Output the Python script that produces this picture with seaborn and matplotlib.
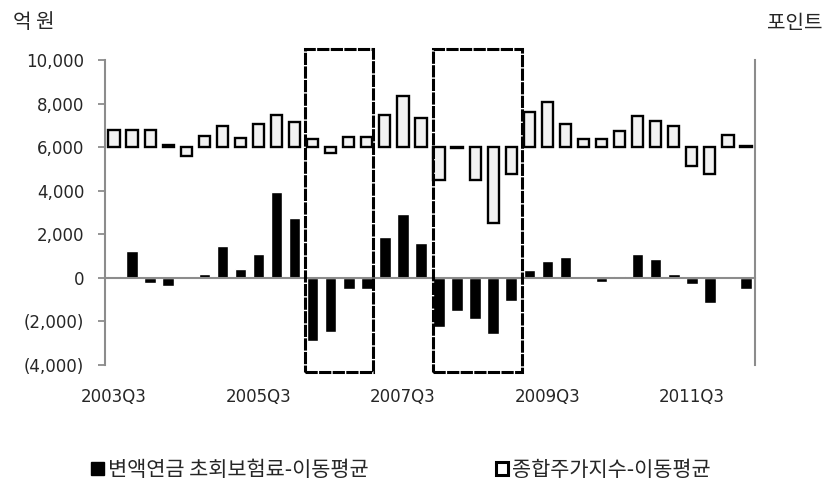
import matplotlib
matplotlib.use("Agg")
import matplotlib.pyplot as plt
from matplotlib.patches import Patch, Rectangle
import numpy as np
import pandas as pd
import seaborn as sns

# ---------------- data ----------------
quarters = []
for yr in range(2003, 2013):
    for q in range(1, 5):
        lab = f"{yr}Q{q}"
        if "2003Q3" <= lab <= "2012Q2":
            quarters.append(lab)

# 변액연금 초회보험료 - 이동평균 (억 원)
annuity = [90, 1250, -230, -380, 0, 180, 1450, 410, 1110, 3930, 2730, -2920,
           -2490, -500, -500, 1880, 2940, 1600, -2270, -1500, -1910, -2560,
           -1070, 380, 760, 960, 0, -200, 100, 1100, 880, 170, -300, -1150,
           0, -500]

# 종합주가지수 - 이동평균 (포인트)
kospi = [80, 80, 80, 8, -40, 50, 95, 43, 108, 149, 114, 39, -27, 47, 47,
         149, 233, 134, -149, -4, -152, -348, -122, 160, 205, 108, 38, 38,
         72, 144, 118, 95, -85, -122, 57, 4]

label_ticks = ["2003Q3", "2005Q3", "2007Q3", "2009Q3", "2011Q3"]
y_ticks = [-4000, -2000, 0, 2000, 4000, 6000, 8000, 10000]
legend_labels = ["변액연금 초회보험료-이동평균", "종합주가지수-이동평균"]

df = pd.DataFrame({"quarter": quarters, "annuity": annuity, "kospi": kospi})

# ---------------- style ----------------
sns.set_style("white")
plt.rcParams["font.family"] = ["DejaVu Sans", "Noto Sans CJK KR"]
TXT = "#262626"
GRAY = "#8c8c8c"
KFONT = ["Noto Sans CJK KR", "DejaVu Sans"]

fig = plt.figure(figsize=(8.3, 4.86), dpi=100)
ax = fig.add_axes([105 / 830, 1 - 365 / 486, 650 / 830, 305 / 486])

sns.barplot(data=df, x="quarter", y="annuity", color="black", saturation=1,
            width=0.64, ax=ax, errorbar=None)

ax2 = ax.twinx()
sns.barplot(data=df, x="quarter", y="kospi", color="#f2f2f2", saturation=1,
            edgecolor="black", linewidth=1.7, width=0.62, ax=ax2, errorbar=None)

n = len(quarters)
ax.set_xlim(-0.5, n - 0.5)
ax2.set_xlim(-0.5, n - 0.5)
ax.set_ylim(-4000, 10000)
ax2.set_ylim(-1000, 400)

# y axis (left)
ax.set_yticks(y_ticks)
ax.set_yticklabels([f"({abs(v):,})" if v < 0 else f"{v:,}" for v in y_ticks],
                   fontsize=12, color=TXT)
ax.tick_params(axis="y", length=5, width=1.3, color=GRAY, pad=10, direction="out")
ax.set_ylabel("")
ax.set_xlabel("")

# x axis: zero line with small ticks; labels at bottom
ax.spines["bottom"].set_position(("data", 0))
ax.spines["bottom"].set_color(GRAY)
ax.spines["bottom"].set_linewidth(1.5)
ax.spines["left"].set_color(GRAY)
ax.spines["left"].set_linewidth(1.5)
ax.spines["top"].set_visible(False)
ax.spines["right"].set_visible(False)

major_pos = [quarters.index(l) for l in label_ticks]
ax.set_xticks(major_pos)
ax.set_xticklabels(label_ticks, fontsize=12, color=TXT)
ax.set_xticks([k + 0.5 for k in range(2, n - 1, 3)], minor=True)
ax.tick_params(axis="x", which="major", length=0, pad=79)
ax.tick_params(axis="x", which="minor", length=4, width=1.3, color=GRAY,
               direction="out")

# right axis (secondary)
for s in ["top", "left", "bottom"]:
    ax2.spines[s].set_visible(False)
ax2.spines["right"].set_color(GRAY)
ax2.spines["right"].set_linewidth(1.5)
ax2.set_yticks([])
ax2.set_ylabel("")
ax2.set_xlabel("")
ax2.tick_params(axis="x", which="both", bottom=False, top=False,
                labelbottom=False, labeltop=False)

# highlight boxes
for x0, x1 in [(10.57, 14.34), (17.64, 22.57)]:
    rect = Rectangle((x0, -4330), x1 - x0, 10518 + 4330, transform=ax.transData,
                     fill=False, edgecolor="black", linewidth=2.2,
                     linestyle=(0, (4, 0.45)), clip_on=False, zorder=10)
    ax2.add_patch(rect)

# header texts
fig.text(13 / 830, 1 - 23 / 486, "억 원", fontsize=14.5, color=TXT,
         ha="left", va="center", family=KFONT)
fig.text(767 / 830, 1 - 23 / 486, "포인트", fontsize=14.5, color=TXT,
         ha="left", va="center", family=KFONT)

# legend
handles = [Patch(facecolor="black", edgecolor="black"),
           Patch(facecolor="white", edgecolor="black", linewidth=2.2)]
leg = fig.legend(handles, legend_labels, loc="center",
                 bbox_to_anchor=(401 / 830, 1 - 470 / 486), ncol=2,
                 frameon=False, handlelength=0.6, handleheight=0.6,
                 handletextpad=0.2, columnspacing=6.1,
                 prop={"family": KFONT, "size": 15})
for t in leg.get_texts():
    t.set_color(TXT)

fig.savefig("out.png", dpi=100)
